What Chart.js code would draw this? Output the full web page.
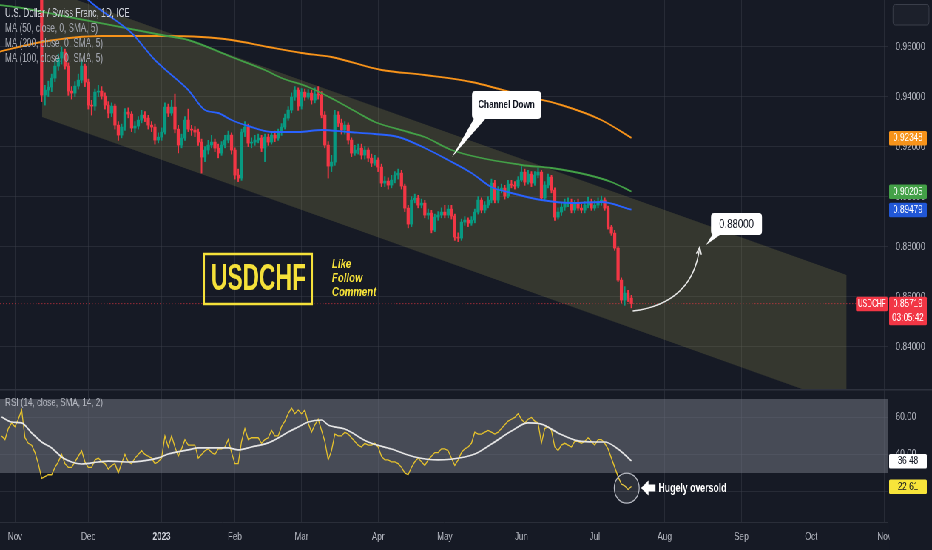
<!DOCTYPE html>
<html>
<head>
<meta charset="utf-8">
<title>USDCHF 1D</title>
<script src="https://cdn.jsdelivr.net/npm/chart.js@4.4.1/dist/chart.umd.min.js"></script>
<style>
  html, body { margin: 0; padding: 0; width: 932px; height: 550px; overflow: hidden; background: #161a25; }
  /* the reference is horizontally squeezed, so draw wider and scale down */
  #wrap { position: absolute; left: 0; top: 0; width: 1260px; height: 550px; transform: scaleX(0.739683); transform-origin: 0 0; }
  #wrap canvas { position: absolute; left: 0; }
  #price { top: 0; }
  #rsi { top: 389px; }
</style>
</head>
<body>
<div id="wrap">
  <canvas id="price" width="1260" height="389"></canvas>
  <canvas id="rsi" width="1260" height="161"></canvas>
</div>
<script>
// bar index 0 = 1 Nov 2022, one step per trading day
const monthTicks = [0, 22, 44, 66, 86, 109, 129, 152, 174, 195, 218, 239, 261];
const monthLabels = ['Nov', 'Dec', '2023', 'Feb', 'Mar', 'Apr', 'May', 'Jun', 'Jul', 'Aug', 'Sep', 'Oct', 'Nov'];
const priceTicks = [0.84, 0.86, 0.88, 0.90, 0.92, 0.94, 0.96];
const rsiTicks = [20, 40, 60];

const firstOpen = 0.9985;
const closes = [
  0.9990, 1.0015, 1.0035, 0.9970, 0.9955, 0.9935, 0.9925, 0.9900, 0.9406, 0.9426,
  0.9438, 0.9474, 0.9522, 0.9554, 0.9578, 0.9522, 0.9422, 0.9414, 0.9442, 0.9466,
  0.9522, 0.9458, 0.9366, 0.9362, 0.9418, 0.9422, 0.9402, 0.9366, 0.9334, 0.9362,
  0.9286, 0.9246, 0.9278, 0.9338, 0.9330, 0.9274, 0.9282, 0.9306, 0.9326, 0.9314,
  0.9286, 0.9278, 0.9226, 0.9238, 0.9258, 0.9358, 0.9334, 0.9358, 0.9270, 0.9206,
  0.9234, 0.9306, 0.9270, 0.9266, 0.9258, 0.9218, 0.9158, 0.9186, 0.9206, 0.9218,
  0.9194, 0.9174, 0.9206, 0.9226, 0.9246, 0.9186, 0.9086, 0.9074, 0.9258, 0.9278,
  0.9214, 0.9218, 0.9226, 0.9234, 0.9194, 0.9238, 0.9218, 0.9246, 0.9234, 0.9258,
  0.9278, 0.9314, 0.9346, 0.9398, 0.9426, 0.9362, 0.9418, 0.9398, 0.9414, 0.9386,
  0.9410, 0.9406, 0.9326, 0.9206, 0.9122, 0.9138, 0.9326, 0.9294, 0.9266, 0.9286,
  0.9226, 0.9174, 0.9186, 0.9194, 0.9166, 0.9186, 0.9154, 0.9134, 0.9146, 0.9118,
  0.9054, 0.9062, 0.9046, 0.9066, 0.9086, 0.9094, 0.9042, 0.8954, 0.8890, 0.8986,
  0.8994, 0.8966, 0.8974, 0.8926, 0.8934, 0.8866, 0.8918, 0.8926, 0.8938, 0.8926,
  0.8950, 0.8922, 0.8838, 0.8834, 0.8898, 0.8906, 0.8894, 0.8906, 0.8938, 0.8986,
  0.8946, 0.8966, 0.8986, 0.9054, 0.8986, 0.9026, 0.9034, 0.9002, 0.9050, 0.9046,
  0.9042, 0.9066, 0.9098, 0.9058, 0.9090, 0.9054, 0.9086, 0.9098, 0.8994, 0.9046,
  0.9078, 0.9026, 0.8918, 0.8938, 0.8958, 0.8974, 0.8978, 0.8946, 0.8974, 0.8954,
  0.8946, 0.8966, 0.8978, 0.8954, 0.8966, 0.8978, 0.8986, 0.8954, 0.8878, 0.8854,
  0.8794, 0.8666, 0.8586, 0.8614, 0.8594, 0.85719
];
const highs = [
  1.0020, 1.0040, 1.0060, 1.0050, 0.9995, 0.9975, 0.9960, 0.9945, 0.9925, 0.9445,
  0.9462, 0.9490, 0.9540, 0.9570, 0.9598, 0.9590, 0.9535, 0.9440, 0.9460, 0.9490,
  0.9545, 0.9530, 0.9470, 0.9385, 0.9430, 0.9445, 0.9440, 0.9415, 0.9380, 0.9375,
  0.9370, 0.9300, 0.9290, 0.9352, 0.9355, 0.9340, 0.9300, 0.9320, 0.9345, 0.9340,
  0.9325, 0.9300, 0.9290, 0.9255, 0.9275, 0.9375, 0.9370, 0.9385, 0.9410, 0.9285,
  0.9250, 0.9320, 0.9350, 0.9285, 0.9280, 0.9270, 0.9230, 0.9200, 0.9225, 0.9245,
  0.9230, 0.9210, 0.9220, 0.9245, 0.9262, 0.9255, 0.9195, 0.9110, 0.9270, 0.9300,
  0.9290, 0.9235, 0.9245, 0.9250, 0.9245, 0.9250, 0.9250, 0.9260, 0.9262, 0.9270,
  0.9292, 0.9330, 0.9360, 0.9415, 0.9440, 0.9435, 0.9432, 0.9430, 0.9428, 0.9425,
  0.9435, 0.9440, 0.9420, 0.9340, 0.9220, 0.9165, 0.9345, 0.9340, 0.9310, 0.9300,
  0.9295, 0.9235, 0.9205, 0.9210, 0.9210, 0.9200, 0.9195, 0.9170, 0.9165, 0.9155,
  0.9130, 0.9080, 0.9075, 0.9085, 0.9100, 0.9110, 0.9105, 0.9050, 0.8965, 0.9000,
  0.9010, 0.9005, 0.8990, 0.8985, 0.8950, 0.8945, 0.8930, 0.8940, 0.8955, 0.8965,
  0.8965, 0.8965, 0.8930, 0.8855, 0.8910, 0.8920, 0.8915, 0.8920, 0.8950, 0.9000,
  0.8995, 0.8980, 0.9000, 0.9070, 0.9065, 0.9040, 0.9050, 0.9045, 0.9065, 0.9065,
  0.9060, 0.9080, 0.9120, 0.9110, 0.9105, 0.9100, 0.9100, 0.9115, 0.9105, 0.9060,
  0.9090, 0.9085, 0.9035, 0.8955, 0.8975, 0.8990, 0.8995, 0.8990, 0.8985, 0.8990,
  0.8970, 0.8980, 0.8998, 0.8990, 0.8985, 0.8995, 0.9002, 0.8995, 0.8962, 0.8885,
  0.8865, 0.8800, 0.8675, 0.8640, 0.8625, 0.8605
];
const lows = [
  0.9960, 0.9975, 1.0000, 0.9950, 0.9930, 0.9910, 0.9900, 0.9870, 0.9380, 0.9366,
  0.9400, 0.9420, 0.9460, 0.9505, 0.9530, 0.9510, 0.9405, 0.9390, 0.9400, 0.9430,
  0.9455, 0.9440, 0.9350, 0.9326, 0.9345, 0.9400, 0.9390, 0.9350, 0.9315, 0.9320,
  0.9270, 0.9225, 0.9235, 0.9265, 0.9315, 0.9260, 0.9255, 0.9270, 0.9295, 0.9300,
  0.9270, 0.9260, 0.9210, 0.9215, 0.9225, 0.9250, 0.9320, 0.9325, 0.9255, 0.9175,
  0.9195, 0.9225, 0.9260, 0.9245, 0.9240, 0.9205, 0.9094, 0.9140, 0.9170, 0.9195,
  0.9180, 0.9155, 0.9165, 0.9195, 0.9215, 0.9170, 0.9070, 0.9060, 0.9065, 0.9240,
  0.9200, 0.9195, 0.9205, 0.9215, 0.9180, 0.9140, 0.9205, 0.9210, 0.9220, 0.9225,
  0.9245, 0.9270, 0.9305, 0.9335, 0.9385, 0.9345, 0.9350, 0.9385, 0.9390, 0.9370,
  0.9375, 0.9390, 0.9315, 0.9195, 0.9074, 0.9100, 0.9125, 0.9280, 0.9250, 0.9250,
  0.9210, 0.9160, 0.9165, 0.9170, 0.9150, 0.9150, 0.9140, 0.9120, 0.9125, 0.9100,
  0.9040, 0.9040, 0.9030, 0.9035, 0.9055, 0.9070, 0.9030, 0.8940, 0.8875, 0.8880,
  0.8975, 0.8955, 0.8955, 0.8915, 0.8910, 0.8855, 0.8860, 0.8905, 0.8915, 0.8915,
  0.8915, 0.8910, 0.8825, 0.8820, 0.8825, 0.8885, 0.8880, 0.8885, 0.8895, 0.8930,
  0.8935, 0.8935, 0.8955, 0.8975, 0.8975, 0.8975, 0.9015, 0.8990, 0.8995, 0.9035,
  0.9030, 0.9035, 0.9060, 0.9045, 0.9050, 0.9040, 0.9045, 0.9075, 0.8985, 0.8985,
  0.9035, 0.9015, 0.8905, 0.8910, 0.8925, 0.8945, 0.8960, 0.8935, 0.8935, 0.8945,
  0.8935, 0.8935, 0.8955, 0.8945, 0.8945, 0.8955, 0.8965, 0.8945, 0.8870, 0.8845,
  0.8785, 0.8660, 0.8575, 0.8565, 0.8580, 0.8555
];

// moving averages (bar index, price)
const ma50X = [18, 22, 35, 42, 47, 52, 57, 61, 65, 70, 77, 85, 92, 100, 108, 115, 123, 130, 137, 143, 149, 158, 167, 176, 185];
const ma50Y = [0.98464, 0.97864, 0.96544, 0.95464, 0.94864, 0.94264, 0.93464, 0.93344, 0.93064, 0.92824, 0.92584, 0.92584, 0.92664,
  0.92584, 0.92504, 0.92384, 0.91944, 0.91464, 0.90944, 0.90384, 0.90144, 0.89864, 0.89744, 0.89784, 0.89479];
const ma100X = [-5, 2, 13, 44, 52, 65, 75, 80, 88, 96, 103, 108, 118, 123, 131, 152, 161, 172, 179, 185];
const ma100Y = [0.97664, 0.97544, 0.97264, 0.96464, 0.96264, 0.95584, 0.95064, 0.94744, 0.94384, 0.93864, 0.93344, 0.92984,
  0.92584, 0.92384, 0.91864, 0.91264, 0.91144, 0.90864, 0.90584, 0.90205];
const ma200X = [-5, 8, 26, 44, 56, 65, 76, 86, 95, 110, 123, 137, 152, 164, 176, 185];
const ma200Y = [0.95784, 0.96184, 0.96424, 0.96424, 0.96384, 0.96264, 0.95984, 0.95744, 0.95584, 0.95064, 0.94864, 0.94584,
  0.94064, 0.93664, 0.93064, 0.92348];

// RSI(14), one value per bar starting at bar -4
const rsiStart = -4;
const rsi = [
  50, 48, 54, 57,
  55, 59, 64, 49, 46, 45, 41, 35, 27, 28,
  29, 29, 33, 36, 40, 35, 33, 33, 36, 39,
  42, 36, 33, 33, 37, 38, 36, 35, 32, 34,
  35, 30, 35, 40, 36, 35, 38, 40, 42, 40,
  39, 38, 35, 36, 38, 50, 44, 50, 44, 39,
  43, 48, 45, 45, 45, 38, 40, 42, 43, 41,
  40, 43, 43, 44, 48, 41, 35, 35, 47, 54,
  48, 49, 49, 49, 46, 48, 49, 53, 50, 50,
  55, 58, 62, 65, 62, 64, 62, 64, 57, 52,
  56, 59, 53, 47, 37, 42, 51, 50, 50, 52,
  51, 49, 47, 45, 44, 46, 45, 45, 46, 44,
  39, 37, 37, 36, 36, 35, 33, 30, 29, 33,
  36, 38, 36, 34, 37, 39, 41, 41, 43, 43,
  42, 38, 34, 37, 41, 43, 44, 46, 52, 51,
  51, 52, 53, 52, 51, 52, 54, 56, 58, 59,
  60, 62, 59, 57, 59, 60, 58, 57, 46, 54,
  55, 53, 44, 42, 45, 46, 45, 44, 47, 47,
  46, 47, 49, 47, 45, 48, 48, 46, 43, 38,
  33, 28, 24, 23, 21, 22.61
];
// RSI moving average (white line)
const rsiMaX = [-4, -1, 2, 5, 8, 11, 14, 17, 20, 25, 28, 34, 38, 43, 46, 52, 55, 61, 64, 67, 71, 76, 79, 82, 85, 88, 92,
  94, 99, 106, 113, 120, 127, 135, 138, 143, 149, 154, 158, 163, 169, 174, 177, 181, 185];
const rsiMaY = [60.2, 57.5, 57.0, 51.6, 46.7, 43.5, 38.6, 35.9, 34.8, 35.9, 36.4, 35.9, 36.4, 38.1, 40.2, 42.4, 43.5, 43.5,
  43.5, 42.4, 44.0, 46.2, 48.9, 52.1, 54.8, 57.5, 58.6, 55.9, 53.7, 46.7, 42.9, 38.6, 37.0, 38.6, 40.2, 45.6, 52.6, 57.0,
  56.4, 51.6, 47.3, 46.7, 46.7, 42.9, 36.48];
const rsiBand = [30, 70];

// drawn channel (bar index, price)
const channelX = [8.1, 249.6];
const channelTop = [0.98364, 0.86864];
const channelBottom = [0.93184, 0.81664];
const targetPrice = 0.88000;
const countdown = '03:05:42';

// view
const S = 932 / 1260;
const ix = v => v / S;
const X_MIN = -4.5, X_MAX = 261.9;
const P_MIN = 0.82304, P_MAX = 0.97864;
const R_MIN = 3.46, R_MAX = 75.35;

const BG = '#161a25';
const GRID = 'rgba(60,64,76,0.45)';
const UP = '#089981', DOWN = '#f23645';
const C50 = '#2962ff', C100 = '#43a047', C200 = '#f7931a';
const FONT = "'Liberation Sans', Arial, Helvetica, sans-serif";
Chart.defaults.font.family = FONT;

const opens = closes.map((c, i) => i === 0 ? firstOpen : closes[i - 1]);
const candleColor = closes.map((c, i) => c >= opens[i] ? UP : DOWN);
const pts = (xs, ys) => xs.map((x, k) => ({ x, y: ys[k] }));
const last = a => a[a.length - 1];

function rr(ctx, x, y, w, h, r) {
  ctx.beginPath();
  ctx.moveTo(x + r, y);
  ctx.arcTo(x + w, y, x + w, y + h, r);
  ctx.arcTo(x + w, y + h, x, y + h, r);
  ctx.arcTo(x, y + h, x, y, r);
  ctx.arcTo(x, y, x + w, y, r);
  ctx.closePath();
}

function valueBox(ctx, y, bg, fg, text, h) {
  ctx.fillStyle = bg;
  rr(ctx, 1202, y - 7, 51, h || 14.5, 1.5);
  ctx.fill();
  ctx.fillStyle = fg;
  ctx.font = `11px ${FONT}`;
  ctx.textAlign = 'center';
  ctx.fillText(text, 1227.5, y + 0.5, 46);
}

const background = {
  id: 'background',
  beforeDraw(chart) {
    const ctx = chart.ctx;
    ctx.save();
    ctx.fillStyle = BG;
    ctx.fillRect(0, 0, chart.width, chart.height);
    ctx.restore();
  }
};

function timeScale(showLabels) {
  return {
    type: 'linear', min: X_MIN, max: X_MAX, bounds: 'data', offset: false,
    afterBuildTicks: s => { s.ticks = monthTicks.map(v => ({ value: v })); },
    afterFit: s => { s.height = showLabels ? 28 : 0; s.paddingLeft = 0; s.paddingRight = 0; },
    grid: { color: GRID, drawTicks: false, offset: false },
    border: { display: showLabels, color: '#2a2e39' },
    ticks: {
      display: showLabels, autoSkip: false, maxRotation: 0, minRotation: 0, padding: 8,
      callback: (v, i) => monthLabels[i],
      color: c => monthLabels[c.index] === '2023' ? '#d1d4dc' : '#b2b5be',
      font: c => ({ size: 11, weight: monthLabels[c.index] === '2023' ? 'bold' : 'normal' })
    }
  };
}

function valueScale(min, max, ticks, digits) {
  return {
    type: 'linear', position: 'right', min, max, bounds: 'data',
    afterBuildTicks: s => { s.ticks = ticks.map(v => ({ value: v })); },
    afterFit: s => { s.width = 60; s.paddingTop = 0; s.paddingBottom = 0; },
    grid: { color: GRID, drawTicks: false },
    border: { color: '#2a2e39' },
    ticks: { padding: 11, color: '#b2b5be', font: { size: 11 }, callback: v => v.toFixed(digits) }
  };
}

const priceOverlay = {
  id: 'priceOverlay',
  afterDraw(chart) {
    const { ctx, scales: { x, y } } = chart;
    const px = (i, p) => [x.getPixelForValue(i), y.getPixelForValue(p)];
    ctx.save();
    ctx.textBaseline = 'middle';

    // legend
    ctx.textAlign = 'left';
    ctx.font = `12px ${FONT}`;
    ctx.fillStyle = '#d1d4dc';
    ctx.fillText('U.S. Dollar / Swiss Franc, 1D, ICE', ix(5), 14, ix(125));
    ctx.fillStyle = '#a3a6af';
    ctx.fillText('MA (50, close, 0, SMA, 5)', ix(5), 29, ix(93));
    ctx.fillText('MA (200, close, 0, SMA, 5)', ix(5), 44, ix(98));
    ctx.fillText('MA (100, close, 0, SMA, 5)', ix(5), 58.5, ix(98));

    // USDCHF badge
    ctx.strokeStyle = '#f5e13a';
    ctx.lineWidth = 2.5;
    ctx.strokeRect(ix(204), 254, ix(312) - ix(204), 50);
    ctx.fillStyle = '#f5e13a';
    ctx.font = `bold 36px ${FONT}`;
    ctx.textAlign = 'center';
    ctx.fillText('USDCHF', ix(258.5), 280, ix(95));
    ctx.textAlign = 'left';
    ctx.font = `italic bold 13px ${FONT}`;
    ctx.fillText('Like', ix(332), 264, ix(20));
    ctx.fillText('Follow', ix(332), 278, ix(31));
    ctx.fillText('Comment', ix(332), 292, ix(45));

    // "Channel Down" callout
    ctx.fillStyle = '#ffffff';
    ctx.beginPath();
    ctx.moveTo(ix(475), 117); ctx.lineTo(ix(487), 117); ctx.lineTo(ix(452), 157);
    ctx.closePath(); ctx.fill();
    rr(ctx, ix(472), 91, ix(69), 28, 4);
    ctx.fill();
    ctx.fillStyle = '#131722';
    ctx.font = `bold 11px ${FONT}`;
    ctx.textAlign = 'center';
    ctx.fillText('Channel Down', ix(506.5), 105, ix(60));

    // projected move towards the target
    const a = px(185.4, 0.8542), b = px(203.5, 0.8574), c = px(205.5, targetPrice - 0.0002);
    ctx.strokeStyle = '#e8e8e8';
    ctx.lineWidth = 1.5;
    ctx.beginPath();
    ctx.moveTo(a[0], a[1]);
    ctx.quadraticCurveTo(b[0], b[1], c[0], c[1]);
    ctx.stroke();
    const ang = Math.atan2(c[1] - b[1], c[0] - b[0]);
    ctx.beginPath();
    ctx.moveTo(c[0] - 8 * Math.cos(ang - 0.45), c[1] - 8 * Math.sin(ang - 0.45));
    ctx.lineTo(c[0], c[1]);
    ctx.lineTo(c[0] - 8 * Math.cos(ang + 0.45), c[1] - 8 * Math.sin(ang + 0.45));
    ctx.stroke();

    // target callout
    ctx.fillStyle = '#ffffff';
    ctx.beginPath();
    ctx.moveTo(ix(714), 232); ctx.lineTo(ix(724), 232); ctx.lineTo(ix(706), 245);
    ctx.closePath(); ctx.fill();
    rr(ctx, ix(711), 213, ix(51), 22, 4);
    ctx.fill();
    ctx.fillStyle = '#131722';
    ctx.font = `13px ${FONT}`;
    ctx.fillText(targetPrice.toFixed(5), ix(736.5), 224.5, ix(40));

    // price scale labels
    const lastClose = last(closes);
    valueBox(ctx, y.getPixelForValue(last(ma200Y)), C200, '#ffffff', last(ma200Y).toFixed(5));
    valueBox(ctx, y.getPixelForValue(last(ma100Y)), C100, '#ffffff', last(ma100Y).toFixed(5));
    valueBox(ctx, y.getPixelForValue(last(ma50Y)), '#2157d6', '#ffffff', last(ma50Y).toFixed(5));
    const py = y.getPixelForValue(lastClose);
    ctx.fillStyle = DOWN;
    rr(ctx, 1202, py - 7, 51, 28.5, 1.5);
    ctx.fill();
    ctx.fillStyle = '#ffffff';
    ctx.font = `11px ${FONT}`;
    ctx.fillText(lastClose.toFixed(5), 1227.5, py + 0.5, 46);
    ctx.fillText(countdown, 1227.5, py + 14.5, 46);
    ctx.fillStyle = DOWN;
    rr(ctx, ix(856), py - 7, 1200 - ix(856), 14.5, 1.5);
    ctx.fill();
    ctx.fillStyle = '#ffffff';
    ctx.font = `10.5px ${FONT}`;
    ctx.fillText('USDCHF', (ix(856) + 1200) / 2, py + 0.5, 38);

    // scale settings button
    ctx.fillStyle = '#1c202b';
    ctx.strokeStyle = '#3a3e4a';
    ctx.lineWidth = 1;
    rr(ctx, ix(893), 4.5, ix(36), 20.5, 3);
    ctx.fill();
    ctx.stroke();
    ctx.restore();
  }
};

const rsiOverlay = {
  id: 'rsiOverlay',
  afterDraw(chart) {
    const { ctx, scales: { x, y }, chartArea } = chart;
    ctx.save();
    ctx.textBaseline = 'middle';
    // the last month label is cut by the price scale
    ctx.fillStyle = BG;
    ctx.fillRect(ix(889.5), chartArea.bottom + 1, chart.width, chart.height);
    // pane separator
    ctx.strokeStyle = '#2e323e';
    ctx.lineWidth = 2;
    ctx.beginPath(); ctx.moveTo(0, 0.5); ctx.lineTo(chart.width, 0.5); ctx.stroke();

    ctx.textAlign = 'left';
    ctx.font = `11.5px ${FONT}`;
    ctx.fillStyle = '#b2b5be';
    ctx.fillText('RSI (14, close, SMA, 14, 2)', ix(5), 14, ix(98));

    // oversold marker
    const cx = x.getPixelForValue(183.6), cy = y.getPixelForValue(21.8);
    ctx.fillStyle = 'rgba(255,255,255,0.10)';
    ctx.strokeStyle = '#b8bbc4';
    ctx.lineWidth = 1.2;
    ctx.beginPath();
    ctx.ellipse(cx, cy, ix(12.5), 15, 0, 0, Math.PI * 2);
    ctx.fill();
    ctx.stroke();
    ctx.fillStyle = '#ffffff';
    ctx.beginPath();
    ctx.moveTo(ix(641), cy);
    ctx.lineTo(ix(648.5), cy - 7.5);
    ctx.lineTo(ix(648.5), cy - 3.5);
    ctx.lineTo(ix(655.5), cy - 3.5);
    ctx.lineTo(ix(655.5), cy + 3.5);
    ctx.lineTo(ix(648.5), cy + 3.5);
    ctx.lineTo(ix(648.5), cy + 7.5);
    ctx.closePath();
    ctx.fill();
    ctx.font = `bold 12px ${FONT}`;
    ctx.fillText('Hugely oversold', ix(658.5), cy + 0.5, ix(68));

    valueBox(ctx, y.getPixelForValue(last(rsiMaY)), '#ffffff', '#131722', last(rsiMaY).toFixed(2));
    valueBox(ctx, y.getPixelForValue(last(rsi)), '#f7e43a', '#131722', last(rsi).toFixed(2));
    ctx.restore();
  }
};

const common = {
  responsive: false,
  devicePixelRatio: 1,
  animation: false,
  events: [],
  layout: { padding: 0 },
  plugins: { legend: { display: false }, tooltip: { enabled: false } }
};

new Chart(document.getElementById('price'), {
  type: 'line',
  data: {
    datasets: [
      { data: pts(channelX, channelTop), fill: '+1', backgroundColor: 'rgba(172,164,84,0.21)',
        borderWidth: 0, pointRadius: 0, order: 10 },
      { data: pts(channelX, channelBottom), fill: false, borderWidth: 0, pointRadius: 0, order: 11 },
      { data: pts([X_MIN, X_MAX], [last(closes), last(closes)]), borderColor: 'rgba(242,54,69,0.6)',
        borderWidth: 1, borderDash: [1.5, 2.5], pointRadius: 0, fill: false, order: 6 },
      { type: 'bar', data: closes.map((c, i) => ({ x: i, y: [lows[i], highs[i]] })), backgroundColor: candleColor,
        barThickness: 1.3, grouped: false, borderWidth: 0, order: 5 },
      { type: 'bar', data: closes.map((c, i) => ({ x: i, y: [opens[i], c] })), backgroundColor: candleColor,
        barThickness: 3.6, minBarLength: 1, grouped: false, borderWidth: 0, order: 4 },
      { data: pts(ma200X, ma200Y), borderColor: C200, borderWidth: 1.8, pointRadius: 0, fill: false,
        cubicInterpolationMode: 'monotone', order: 3 },
      { data: pts(ma100X, ma100Y), borderColor: C100, borderWidth: 1.8, pointRadius: 0, fill: false,
        cubicInterpolationMode: 'monotone', order: 2 },
      { data: pts(ma50X, ma50Y), borderColor: C50, borderWidth: 1.8, pointRadius: 0, fill: false,
        cubicInterpolationMode: 'monotone', order: 1 }
    ]
  },
  options: {
    ...common,
    scales: { x: timeScale(false), y: valueScale(P_MIN, P_MAX, priceTicks, 5) }
  },
  plugins: [background, priceOverlay]
});

new Chart(document.getElementById('rsi'), {
  type: 'line',
  data: {
    datasets: [
      { data: pts([X_MIN, X_MAX], [rsiBand[1], rsiBand[1]]), fill: '+1', backgroundColor: 'rgba(120,124,136,0.5)',
        borderWidth: 0, pointRadius: 0, order: 10 },
      { data: pts([X_MIN, X_MAX], [rsiBand[0], rsiBand[0]]), fill: false, borderWidth: 0, pointRadius: 0, order: 11 },
      { data: rsi.map((v, k) => ({ x: rsiStart + k, y: v })), borderColor: '#e6c22c', borderWidth: 1.3,
        pointRadius: 0, fill: false, order: 1 },
      { data: pts(rsiMaX, rsiMaY), borderColor: '#e6e6e6', borderWidth: 1.7, pointRadius: 0, fill: false,
        cubicInterpolationMode: 'monotone', order: 0 }
    ]
  },
  options: {
    ...common,
    scales: { x: timeScale(true), y: valueScale(R_MIN, R_MAX, rsiTicks, 2) }
  },
  plugins: [background, rsiOverlay]
});
</script>
</body>
</html>
